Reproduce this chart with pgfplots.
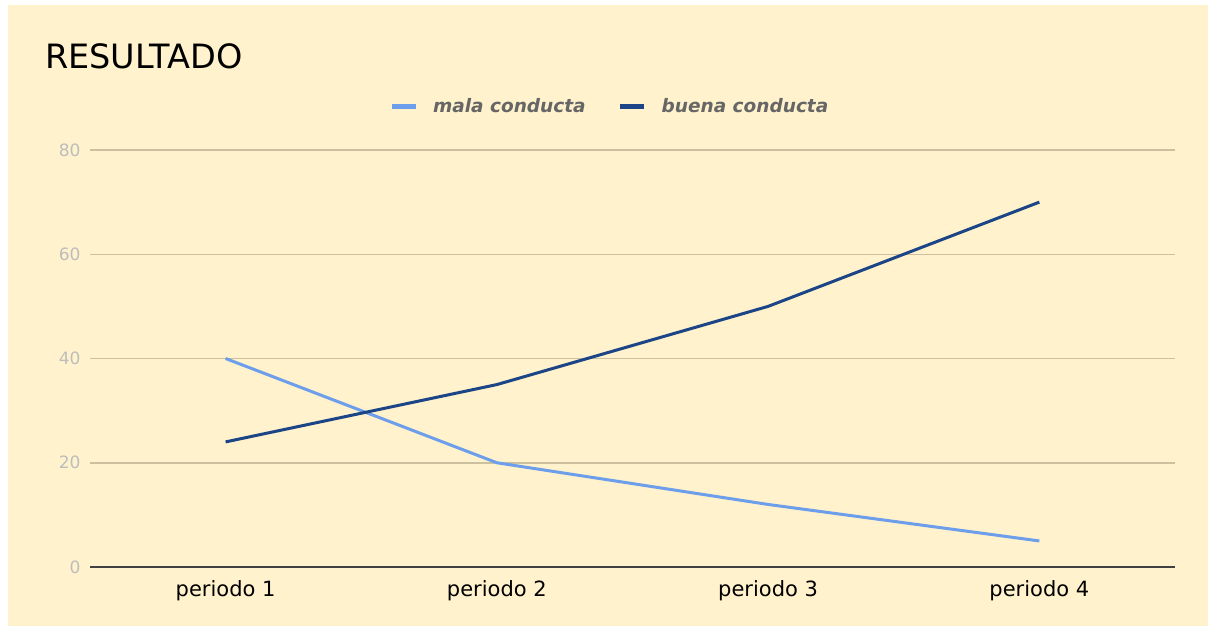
\documentclass[border=0pt]{standalone}
\usepackage{pgfplots}
\pgfplotsset{compat=1.18}
\usepackage{fontspec}
\setmainfont{DejaVu Sans}
\definecolor{bgy}{HTML}{FFF2CC}
\definecolor{gridc}{HTML}{CCC09E}
\definecolor{tickc}{HTML}{BDBDBD}
\definecolor{lblue}{HTML}{6D9EEB}
\definecolor{dblue}{HTML}{1C4587}
\definecolor{legc}{HTML}{666666}
\begin{document}
\begin{tikzpicture}[x=1pt,y=1pt]
\path[use as bounding box, fill=white] (0,0) rectangle (1210,-629);
\fill[bgy] (8,-5) rectangle (1208,-626);
\node[anchor=base west, font=\fontsize{33.5}{38}\selectfont, inner sep=0pt] at (45,-68) {RESULTADO};
\begin{axis}[
  at={(90pt,-567pt)}, anchor=south west,
  scale only axis, width=1085pt, height=417pt,
  xmin=-0.5, xmax=3.5, ymin=0, ymax=80,
  xtick={0,1,2,3}, xticklabels={periodo 1,periodo 2,periodo 3,periodo 4},
  ytick={0,20,40,60,80},
  /pgf/number format/assume math mode=true,
  axis line style={draw=none},
  axis x line*=bottom, axis y line*=left,
  major tick length=0pt,
  ymajorgrids, grid style={gridc, line width=1.5pt},
  yticklabel style={tickc, font=\fontsize{17}{20}\selectfont, xshift=-6pt},
  xticklabel style={black, font=\fontsize{21}{25}\selectfont, yshift=-10pt},
  legend style={at={(0.479,1.1055)}, anchor=center, draw=none, fill=none,
    legend columns=2, font=\fontsize{18.5}{22}\selectfont\bfseries\itshape,
    text=legc,
    /tikz/every odd column/.append style={column sep=13pt},
    /tikz/every even column/.append style={column sep=30pt}},
  legend image code/.code={\draw[#1, line width=5pt] (0pt,0pt) -- (24pt,0pt);},
  clip=false,
]
\addplot[lblue, line width=3pt] coordinates {(0,40) (1,20) (2,12) (3,5)};
\addlegendentry{mala conducta}
\addplot[dblue, line width=3pt] coordinates {(0,24) (1,35) (2,50) (3,70)};
\addlegendentry{buena conducta}
\draw[black!75, line width=2pt] (axis cs:-0.5,0) -- (axis cs:3.5,0);
\end{axis}
\end{tikzpicture}
\end{document}
